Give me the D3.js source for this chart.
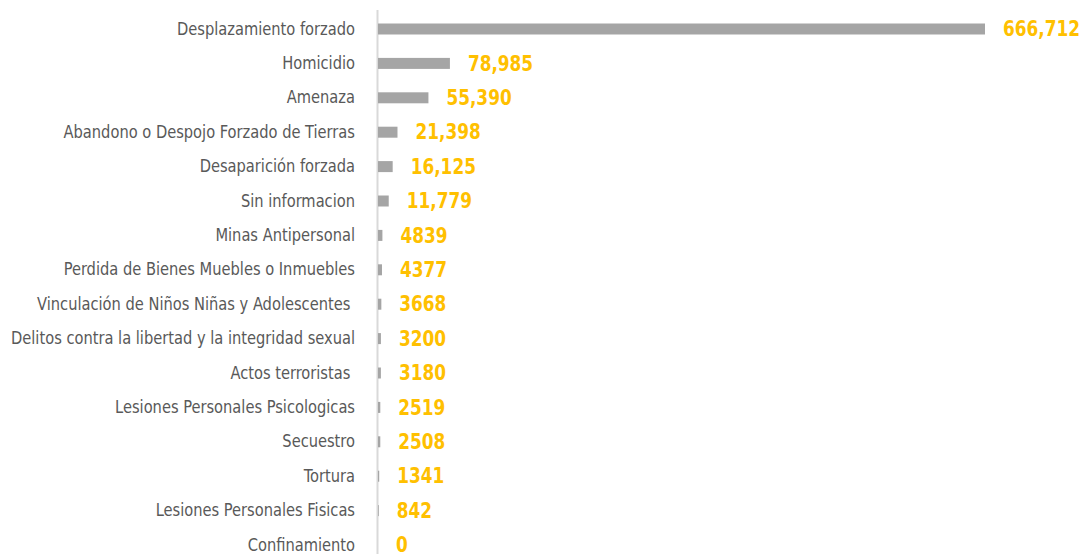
<html>
<head>
<meta charset="utf-8">
<script src="https://d3js.org/d3.v7.min.js"></script>
<style>
body { margin: 0; background: #fff; }
.cat { font-family: 'DejaVu Sans Condensed', 'Liberation Sans Narrow', sans-serif; font-size: 17.5px; fill: #595959; white-space: pre; }
.val { font-family: 'DejaVu Sans Condensed', 'Liberation Sans Narrow', sans-serif; font-size: 21px; font-weight: bold; fill: #ffc000; }
</style>
</head>
<body>
<div id="chart"></div>
<script>
// categories and values, top to bottom
var categories = [
  "Desplazamiento forzado",
  "Homicidio",
  "Amenaza",
  "Abandono o Despojo Forzado de Tierras",
  "Desaparición forzada",
  "Sin informacion",
  "Minas Antipersonal",
  "Perdida de Bienes Muebles o Inmuebles",
  "Vinculación de Niños Niñas y Adolescentes ",
  "Delitos contra la libertad y la integridad sexual",
  "Actos terroristas ",
  "Lesiones Personales Psicologicas",
  "Secuestro",
  "Tortura",
  "Lesiones Personales Fisicas",
  "Confinamiento"
];
var values = [666712, 78985, 55390, 21398, 16125, 11779, 4839, 4377, 3668, 3200, 3180, 2519, 2508, 1341, 842, 0];

var width = 1084, height = 554;
var rows = categories.map((c, i) => ({cat: c, val: values[i]}));

var svg = d3.select("#chart").append("svg").attr("width", width).attr("height", height);

var x = d3.scaleLinear().domain([0, d3.max(values)]).range([378, 985]);
var y = d3.scalePoint().domain(categories).range([29, 545]);
var barH = 11;

// axis line
svg.append("line")
  .attr("x1", 377.5).attr("x2", 377.5)
  .attr("y1", 10).attr("y2", height)
  .attr("stroke", "#d9d9d9").attr("stroke-width", 2);

// bars
svg.selectAll(".bar").data(rows).enter().append("rect")
  .attr("class", "bar")
  .attr("x", x(0))
  .attr("y", d => y(d.cat) - barH / 2)
  .attr("width", d => x(d.val) - x(0))
  .attr("height", barH)
  .attr("fill", "#a5a5a5");

// squeeze glyphs horizontally so the font looks condensed like the original
function squeeze(sel, k) {
  sel.each(function() {
    var w = this.getComputedTextLength();
    d3.select(this).attr("textLength", w * k).attr("lengthAdjust", "spacingAndGlyphs");
  });
}

// category labels
var cats = svg.selectAll(".cat").data(rows).enter().append("text")
  .attr("class", "cat")
  .attr("x", 355)
  .attr("y", d => y(d.cat))
  .attr("dy", "0.32em")
  .attr("text-anchor", "end")
  .text(d => d.cat);
var longest = d3.max(cats.nodes(), n => n.getComputedTextLength());
squeeze(cats, 344 / longest);

// value labels
var fmt = d3.format(",");
var vals = svg.selectAll(".val").data(rows).enter().append("text")
  .attr("class", "val")
  .attr("x", d => x(d.val) + 18)
  .attr("y", d => y(d.cat))
  .attr("dy", "0.34em")
  .text(d => d.val >= 10000 ? fmt(d.val) : d.val);
squeeze(vals, 77 / vals.nodes()[0].getComputedTextLength());
</script>
</body>
</html>
